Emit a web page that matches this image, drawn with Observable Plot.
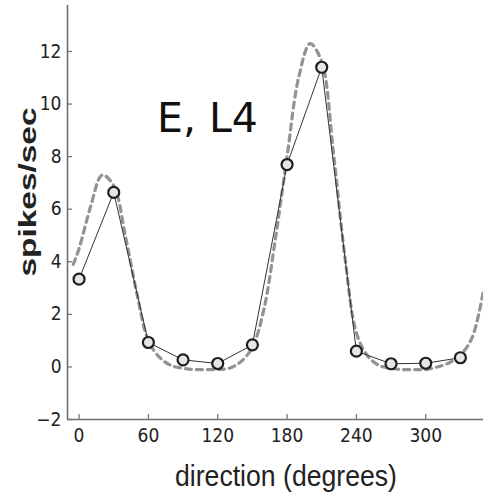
<!DOCTYPE html>
<html>
<head>
<meta charset="utf-8">
<script src="https://cdn.jsdelivr.net/npm/d3@7"></script>
<script src="https://cdn.jsdelivr.net/npm/@observablehq/plot@0.6"></script>
<style>
  html, body { margin: 0; padding: 0; background: #fff; }
  #chart svg { display: block; }
</style>
</head>
<body>
<div id="chart"></div>
<script>
// Measured responses (circles joined by a thin line)
const directions = [0, 30, 60, 90, 120, 150, 180, 210, 240, 270, 300, 330];
const rates = [3.34, 6.64, 0.93, 0.27, 0.13, 0.84, 7.7, 11.4, 0.6, 0.12, 0.14, 0.35];

// Fitted tuning curve (dashed)
const fitDirections = [-5, 0, 10, 20, 30, 40, 50, 60, 70, 80, 90, 100, 110, 120, 130, 140, 150, 160, 170, 180, 190, 200, 210, 220, 230, 240, 250, 260, 270, 280, 290, 300, 310, 320, 330, 340, 350];
const fitRates = [3.9, 4.5, 6.1, 7.3, 6.9, 5.0, 2.8, 1.0, 0.35, 0.05, -0.05, -0.1, -0.1, -0.1, -0.05, 0.2, 0.75, 2.2, 4.9, 8.0, 11.0, 12.3, 11.6, 8.2, 4.2, 1.3, 0.4, 0.05, -0.05, -0.1, -0.1, -0.1, 0.0, 0.15, 0.45, 1.1, 2.9];

const xTicks = [0, 60, 120, 180, 240, 300];
const yTicks = [-2, 0, 2, 4, 6, 8, 10, 12];

const xLabel = "direction (degrees)";
const yLabel = "spikes/sec";
const panelLabel = "E, L4";

const measured = directions.map((d, i) => ({dir: d, rate: rates[i]}));
const fit = fitDirections.map((d, i) => ({dir: d, rate: fitRates[i]}));

const tickFont = "'Liberation Sans Narrow', 'DejaVu Sans Condensed', sans-serif";

const svg = Plot.plot({
  width: 483,
  height: 497,
  marginLeft: 67,
  marginRight: 0,
  marginTop: 5,
  marginBottom: 78,
  style: {fontFamily: tickFont, fontSize: "19px", color: "#222", background: "#fff"},
  x: {domain: [-10, 350]},
  y: {domain: [-2, 13.75]},
  marks: [
    Plot.axisX({ticks: xTicks, tickSize: -5, tickPadding: 14, label: null, stroke: "#777", strokeWidth: 1.3, fontSize: 19}),
    Plot.axisY({ticks: yTicks, tickSize: -5, tickPadding: 11, label: null, stroke: "#777", strokeWidth: 1.3, fontSize: 19}),
    Plot.ruleX([-10], {stroke: "#6e6e6e", strokeWidth: 1.6}),
    Plot.ruleY([-2], {stroke: "#6e6e6e", strokeWidth: 1.6}),
    Plot.line(fit, {x: "dir", y: "rate", curve: "catmull-rom", stroke: "#939393", strokeWidth: 3.2, strokeDasharray: "6,5", clip: true}),
    Plot.line(measured, {x: "dir", y: "rate", stroke: "#333", strokeWidth: 1}),
    Plot.dot(measured, {x: "dir", y: "rate", r: 5.5, stroke: "#1e1e1e", strokeWidth: 2.2, fill: "#e6e6e6"})
  ]
});

const s = d3.select(svg);
s.append("text")
  .attr("x", 286).attr("y", 486)
  .attr("text-anchor", "middle")
  .attr("font-family", "'Liberation Sans', sans-serif")
  .attr("font-size", 29)
  .attr("fill", "#222")
  .attr("textLength", 222)
  .attr("lengthAdjust", "spacingAndGlyphs")
  .text(xLabel);

s.append("text")
  .attr("transform", "translate(36,192) rotate(-90)")
  .attr("text-anchor", "middle")
  .attr("font-family", "'Liberation Sans', sans-serif")
  .attr("font-weight", "bold")
  .attr("font-size", 24)
  .attr("fill", "#222")
  .attr("textLength", 169)
  .attr("lengthAdjust", "spacingAndGlyphs")
  .text(yLabel);

s.append("text")
  .attr("x", 157).attr("y", 132)
  .attr("text-anchor", "start")
  .attr("font-family", "'DejaVu Sans', sans-serif")
  .attr("font-size", 41)
  .attr("fill", "#111")
  .text(panelLabel);

document.getElementById("chart").appendChild(svg);
</script>
</body>
</html>
